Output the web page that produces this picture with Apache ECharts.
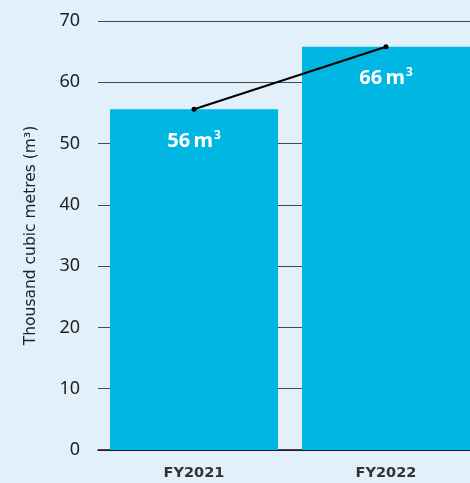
<!DOCTYPE html>
<html><head><meta charset="utf-8">
<script src="https://cdn.jsdelivr.net/npm/echarts@6/dist/echarts.min.js"></script>
<style>html,body{margin:0;padding:0;background:#e1f0fb;}#c{width:470px;height:483px;}</style>
</head><body><div id="c"></div>
<script>
var categories = ['FY2021', 'FY2022'];
var values = [55.6, 65.8];
var valueLabels = ['56', '66'];
var yTicks = [0, 10, 20, 30, 40, 50, 60, 70];

var chart = echarts.init(document.getElementById('c'));
chart.setOption({
  backgroundColor: '#e1f0fb',
  animation: false,
  grid: { left: 98, width: 384, top: 21, bottom: 33, containLabel: false, outerBoundsMode: 'none' },
  xAxis: {
    type: 'category', data: categories,
    axisLine: { show: true, lineStyle: { color: '#111', width: 1.5 } },
    axisTick: { show: false },
    axisLabel: { color: '#333', fontWeight: 'bold', fontSize: 14.5, fontFamily: 'DejaVu Sans', margin: 16 }
  },
  yAxis: {
    type: 'value', min: yTicks[0], max: yTicks[yTicks.length - 1], interval: 10,
    name: 'Thousand cubic metres (m\u00b3)', nameLocation: 'middle', nameGap: 59,
    nameTextStyle: { color: '#222', fontSize: 15.5, fontFamily: 'DejaVu Sans' },
    axisLine: { show: false }, axisTick: { show: false },
    axisLabel: { color: '#222', fontSize: 18, fontFamily: 'Noto Sans', margin: 18 },
    splitLine: { show: true, lineStyle: { color: '#4a4a4a', width: 1 } }
  },
  series: [
    {
      type: 'bar', data: values, barWidth: 168, itemStyle: { color: '#00b6e3' },
      label: {
        show: true, position: 'insideTop', distance: 20, color: '#fff',
        formatter: function (p) { return '{n|' + valueLabels[p.dataIndex] + '\u2009m}{s|3}'; },
        rich: {
          n: { fontSize: 20, fontWeight: 'bold', fontFamily: 'Noto Sans', color: '#fff', lineHeight: 24 },
          s: { fontSize: 12, fontWeight: 'bold', fontFamily: 'Noto Sans', color: '#fff', lineHeight: 12, verticalAlign: 'top', padding: [0, 0, 8, 1] }
        }
      }, z: 2
    },
    {
      type: 'line', data: values, symbol: 'circle', symbolSize: 5,
      lineStyle: { color: '#000', width: 2 }, itemStyle: { color: '#000' }, z: 5
    }
  ]
});
</script></body></html>
